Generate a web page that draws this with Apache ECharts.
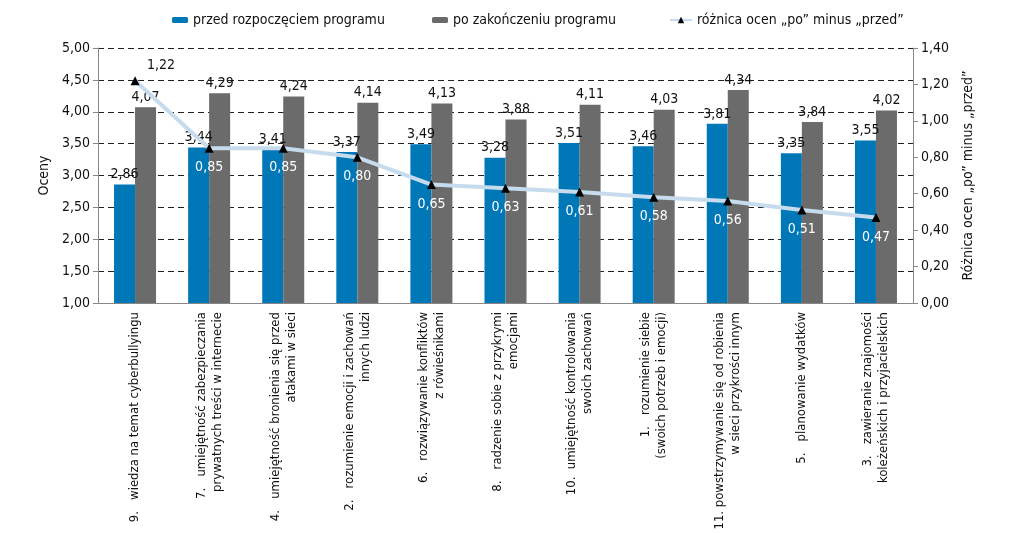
<!DOCTYPE html>
<html>
<head>
<meta charset="utf-8">
<script src="https://cdn.jsdelivr.net/npm/echarts@6/dist/echarts.min.js"></script>
<style>
html,body{margin:0;padding:0;background:#fff;}
#main{width:1024px;height:533px;}
</style>
</head>
<body>
<div id="main"></div>
<script>
var categories = [
	'9.   wiedza na temat cyberbullyingu',
	'7.   umiejętność zabezpieczania\nprywatnych treści w internecie',
	'4.   umiejętność bronienia się przed\natakami w sieci',
	'2.   rozumienie emocji i zachowań\ninnych ludzi',
	'6.   rozwiązywanie konfliktów\nz rówieśnikami',
	'8.   radzenie sobie z przykrymi\nemocjami',
	'10.  umiejętność kontrolowania\nswoich zachowań',
	'1.   rozumienie siebie\n(swoich potrzeb i emocji)',
	'11. powstrzymywanie się od robienia\nw sieci przykrości innym',
	'5.   planowanie wydatków',
	'3.   zawieranie znajomości\nkoleżeńskich i przyjacielskich'
];
var przed = [2.86, 3.44, 3.41, 3.37, 3.49, 3.28, 3.51, 3.46, 3.81, 3.35, 3.55];
var po = [4.07, 4.29, 4.24, 4.14, 4.13, 3.88, 4.11, 4.03, 4.34, 3.84, 4.02];
var roznica = [1.22, 0.85, 0.85, 0.80, 0.65, 0.63, 0.61, 0.58, 0.56, 0.51, 0.47];

var FONT = "'Liberation Sans Narrow','DejaVu Sans Condensed','Noto Sans',sans-serif";
function pl(v){ return Number(v).toFixed(2).replace('.', ','); }

// pierwsza etykieta linii jest czarna, nad punktem
var roznicaData = roznica.map(function(v, i){
	if (i === 0) {
		return {value: v, label: {position: 'top', offset: [26, 4], color: '#111'}};
	}
	return v;
});

var option = {
	textStyle: {fontFamily: FONT},
	legend: [
		{left: 167, top: 8, itemWidth: 16, itemHeight: 6, textStyle: {fontSize: 14, color: '#111', fontFamily: FONT}, data: ['przed rozpoczęciem programu']},
		{left: 427, top: 8, itemWidth: 16, itemHeight: 6, textStyle: {fontSize: 14, color: '#111', fontFamily: FONT}, data: ['po zakończeniu programu']},
		{left: 664, top: 8, itemWidth: 22, itemHeight: 8, textStyle: {fontSize: 14, color: '#111', fontFamily: FONT}, data: ['różnica ocen „po” minus „przed”']}
	],
	grid: {left: 98, right: 111, top: 48, bottom: 230},
	xAxis: {
		type: 'category',
		data: categories,
		axisLine: {lineStyle: {color: '#888'}},
		axisTick: {lineStyle: {color: '#888'}},
		axisLabel: {
			interval: 0, rotate: 90, fontSize: 13, lineHeight: 16,
			color: '#111', fontFamily: FONT, margin: 9
		}
	},
	yAxis: [
		{
			type: 'value', min: 1, max: 5, interval: 0.5,
			name: 'Oceny', nameLocation: 'middle', nameGap: 42,
			nameTextStyle: {fontSize: 14, color: '#111', fontFamily: FONT},
			axisLine: {show: true, lineStyle: {color: '#888'}},
			axisTick: {show: true, lineStyle: {color: '#888'}},
			axisLabel: {formatter: pl, fontSize: 14, color: '#111', fontFamily: FONT},
			splitLine: {lineStyle: {color: '#222', type: [6, 4]}}
		},
		{
			type: 'value', min: 0, max: 1.4, interval: 0.2,
			name: 'Różnica ocen „po” minus „przed”', nameLocation: 'middle', nameGap: 48,
			nameTextStyle: {fontSize: 14, color: '#111', fontFamily: FONT},
			axisLine: {show: true, lineStyle: {color: '#888'}},
			axisTick: {show: true, lineStyle: {color: '#888'}},
			axisLabel: {formatter: pl, fontSize: 14, color: '#111', fontFamily: FONT},
			splitLine: {show: false}
		}
	],
	series: [
		{
			name: 'przed rozpoczęciem programu', type: 'bar', data: przed,
			barWidth: 21, barGap: '0%',
			itemStyle: {color: '#0077b6'},
			label: {show: true, position: 'top', distance: 3, fontSize: 14, color: '#111',
				formatter: function(p){ return pl(p.value); }}
		},
		{
			name: 'po zakończeniu programu', type: 'bar', data: po,
			barWidth: 21,
			itemStyle: {color: '#6b6b6b'},
			label: {show: true, position: 'top', distance: 3, fontSize: 14, color: '#111',
				formatter: function(p){ return pl(p.value); }}
		},
		{
			name: 'różnica ocen „po” minus „przed”', type: 'line', yAxisIndex: 1,
			data: roznicaData, z: 5,
			symbol: 'triangle', symbolSize: 9,
			itemStyle: {color: '#000'},
			lineStyle: {color: '#c6dcee', width: 4},
			label: {show: true, position: 'bottom', distance: 8, fontSize: 14, color: '#fff',
				formatter: function(p){ return pl(p.value); }}
		}
	]
};

var myChart = echarts.init(document.getElementById('main'));
myChart.setOption(option);
</script>
</body>
</html>
